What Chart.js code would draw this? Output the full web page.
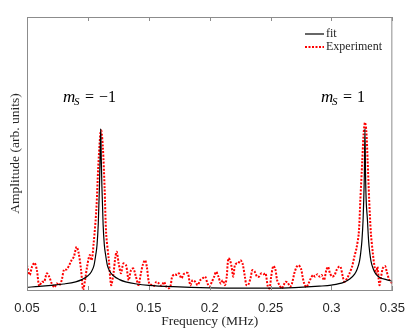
<!DOCTYPE html>
<html>
<head>
<meta charset="utf-8">
<script src="https://cdn.jsdelivr.net/npm/chart.js@4.4.1/dist/chart.umd.min.js"></script>
<style>
    html, body { margin: 0; padding: 0; background: #ffffff; }
    #wrap { width: 416px; height: 336px; }
</style>
</head>
<body>
<div id="wrap"><canvas id="chart" width="416" height="336"></canvas></div>
<script>
// ====== Data ======
const xTicks = [0.05, 0.1, 0.15, 0.2, 0.25, 0.3, 0.35];

// Fitted curve (black solid)
const fitFreq = [
    0.05, 0.06, 0.07, 0.08, 0.09, 0.095, 0.1, 0.103, 0.105, 0.1065, 0.1075,
    0.1085, 0.1095, 0.11, 0.1105, 0.111, 0.1115, 0.1125, 0.1135, 0.1145,
    0.116, 0.118, 0.121, 0.126, 0.131, 0.14, 0.15, 0.17, 0.2, 0.23, 0.25,
    0.27, 0.29, 0.3, 0.31, 0.315, 0.319, 0.321, 0.323, 0.324, 0.325, 0.326,
    0.3265, 0.327, 0.3275, 0.328, 0.3285, 0.3295, 0.3305, 0.3315, 0.3325,
    0.3345, 0.3365, 0.34, 0.345, 0.35
];
const fitAmp = [
    0.010, 0.013, 0.017, 0.022, 0.030, 0.038, 0.052, 0.068, 0.090, 0.130, 0.165,
    0.240, 0.380, 0.480, 0.590, 0.480, 0.380, 0.240, 0.165, 0.130,
    0.090, 0.068, 0.052, 0.038, 0.030, 0.022, 0.017, 0.012, 0.008, 0.007, 0.007,
    0.009, 0.014, 0.018, 0.028, 0.040, 0.058, 0.075, 0.105, 0.135, 0.180, 0.260,
    0.330, 0.420, 0.590, 0.420, 0.330, 0.260, 0.180, 0.135, 0.105,
    0.075, 0.058, 0.045, 0.038, 0.032
];

// Measured spectrum (red dotted)
const expFreq = [
    0.0500, 0.0522, 0.0541, 0.0562, 0.0581, 0.0600, 0.0622, 0.0641, 0.0663, 0.0682,
    0.0703, 0.0725, 0.0744, 0.0766, 0.0785, 0.0804, 0.0825, 0.0847, 0.0866, 0.0885,
    0.0907, 0.0925, 0.0944, 0.0961, 0.0977, 0.0993, 0.1015, 0.1031, 0.1047, 0.1069,
    0.1085, 0.1102, 0.1110, 0.1123, 0.1137, 0.1150, 0.1172, 0.1191, 0.1210, 0.1226,
    0.1237, 0.1253, 0.1272, 0.1291, 0.1313, 0.1335, 0.1354, 0.1373, 0.1394, 0.1416,
    0.1435, 0.1454, 0.1470, 0.1484, 0.1503, 0.1524, 0.1543, 0.1562, 0.1584, 0.1606,
    0.1625, 0.1644, 0.1665, 0.1679, 0.1692, 0.1714, 0.1733, 0.1747, 0.1768, 0.1787,
    0.1806, 0.1822, 0.1841, 0.1860, 0.1882, 0.1901, 0.1923, 0.1942, 0.1963, 0.1982,
    0.1999, 0.2018, 0.2037, 0.2053, 0.2072, 0.2091, 0.2107, 0.2126, 0.2140, 0.2153,
    0.2167, 0.2180, 0.2194, 0.2207, 0.2221, 0.2234, 0.2253, 0.2270, 0.2289, 0.2302,
    0.2316, 0.2335, 0.2351, 0.2370, 0.2389, 0.2405, 0.2424, 0.2443, 0.2459, 0.2478,
    0.2492, 0.2505, 0.2522, 0.2538, 0.2554, 0.2573, 0.2592, 0.2608, 0.2622, 0.2641,
    0.2660, 0.2676, 0.2695, 0.2714, 0.2730, 0.2749, 0.2763, 0.2776, 0.2793, 0.2812,
    0.2831, 0.2850, 0.2866, 0.2885, 0.2904, 0.2920, 0.2939, 0.2958, 0.2972, 0.2988,
    0.3007, 0.3026, 0.3042, 0.3061, 0.3075, 0.3093, 0.3107, 0.3129, 0.3148, 0.3169,
    0.3188, 0.3205, 0.3224, 0.3237, 0.3253, 0.3264, 0.3275, 0.3286, 0.3297, 0.3310,
    0.3324, 0.3340, 0.3354, 0.3367, 0.3378, 0.3394, 0.3408, 0.3421, 0.3440, 0.3454,
    0.3476, 0.3500
];
const expAmp = [
    0.091, 0.055, 0.085, 0.100, 0.073, 0.015, 0.030, 0.030, 0.061, 0.049,
    0.024, 0.010, 0.024, 0.018, 0.036, 0.075, 0.075, 0.091, 0.109, 0.122,
    0.158, 0.134, 0.073, 0.000, 0.036, 0.085, 0.128, 0.109, 0.170, 0.292,
    0.450, 0.572, 0.584, 0.523, 0.377, 0.207, 0.109, 0.018, 0.061, 0.122,
    0.140, 0.097, 0.061, 0.097, 0.091, 0.036, 0.073, 0.079, 0.049, 0.018,
    0.061, 0.097, 0.109, 0.085, 0.024, 0.018, 0.015, 0.030, 0.024, 0.015,
    0.030, 0.012, 0.006, 0.015, 0.049, 0.058, 0.055, 0.061, 0.043, 0.058,
    0.063, 0.061, 0.018, 0.036, 0.030, 0.018, 0.036, 0.043, 0.049, 0.024,
    0.012, 0.030, 0.049, 0.067, 0.049, 0.024, 0.036, 0.018, 0.049, 0.116,
    0.109, 0.085, 0.049, 0.091, 0.097, 0.097, 0.109, 0.097, 0.049, 0.018,
    0.018, 0.043, 0.073, 0.067, 0.049, 0.049, 0.061, 0.058, 0.061, 0.012,
    0.006, 0.049, 0.088, 0.079, 0.036, 0.018, 0.006, 0.018, 0.030, 0.027,
    0.012, 0.024, 0.061, 0.085, 0.091, 0.079, 0.049, 0.024, 0.010, 0.024,
    0.043, 0.055, 0.049, 0.058, 0.049, 0.055, 0.036, 0.073, 0.085, 0.061,
    0.049, 0.055, 0.073, 0.085, 0.085, 0.049, 0.030, 0.043, 0.061, 0.085,
    0.122, 0.152, 0.207, 0.328, 0.474, 0.572, 0.614, 0.584, 0.474, 0.328,
    0.207, 0.134, 0.085, 0.061, 0.085, 0.018, 0.049, 0.079, 0.088, 0.067,
    0.036, 0.024
];

// ====== Helpers ======
function toPoints(xs, ys) {
    return xs.map((x, i) => ({ x, y: ys[i] }));
}

const AXIS_GRAY = '#8c8c8c';
const TEXT_DARK = '#262626';
const SERIF = '"Liberation Serif", "DejaVu Serif", serif';
const SANS = '"Liberation Sans", Arial, sans-serif';

// ====== Plugin: box, inward ticks, legend, peak labels ======
const decorations = {
    id: 'decorations',
    afterDatasetsDraw(chart) {
        const { ctx, chartArea: a, scales } = chart;
        ctx.save();

        // box
        ctx.strokeStyle = AXIS_GRAY;
        ctx.lineWidth = 1;
        ctx.strokeRect(a.left + 0.5, a.top + 0.5, a.right - a.left - 1, a.bottom - a.top);

        // inward ticks on top and bottom
        for (const t of xTicks) {
            const px = Math.round(scales.x.getPixelForValue(t)) + 0.5;
            ctx.beginPath();
            ctx.moveTo(px, a.bottom);
            ctx.lineTo(px, a.bottom - 4);
            ctx.moveTo(px, a.top);
            ctx.lineTo(px, a.top + 4);
            ctx.stroke();
        }

        // legend
        const ds = chart.data.datasets;
        const rows = [34, 47];
        ds.forEach((d, i) => {
            ctx.beginPath();
            ctx.strokeStyle = d.borderColor;
            ctx.lineWidth = d.borderWidth;
            ctx.setLineDash(d.borderDash || []);
            ctx.moveTo(305, rows[i]);
            ctx.lineTo(324, rows[i]);
            ctx.stroke();
            ctx.setLineDash([]);
            ctx.fillStyle = TEXT_DARK;
            ctx.font = '12px ' + SERIF;
            ctx.textBaseline = 'middle';
            ctx.textAlign = 'left';
            ctx.fillText(d.label, 326, rows[i]);
        });

        // peak labels: m_S = value
        function peakLabel(x, y, value) {
            ctx.fillStyle = '#000000';
            ctx.textBaseline = 'alphabetic';
            ctx.textAlign = 'left';
            ctx.font = 'italic 17px ' + SERIF;
            ctx.fillText('m', x, y);
            ctx.font = 'italic 11px ' + SERIF;
            ctx.fillText('S', x + 11, y + 3);
            ctx.font = '16px ' + SERIF;
            ctx.fillText('=', x + 22, y);
            ctx.fillText(value, x + 36, y);
        }
        peakLabel(63, 102, '\u22121');
        peakLabel(321, 102, '1');

        ctx.restore();
    }
};

// ====== Chart ======
new Chart(document.getElementById('chart'), {
    type: 'line',
    data: {
        datasets: [
            {
                label: 'fit',
                data: toPoints(fitFreq, fitAmp),
                borderColor: '#000000',
                borderWidth: 1.2,
                pointRadius: 0,
                cubicInterpolationMode: 'monotone'
            },
            {
                label: 'Experiment',
                data: toPoints(expFreq, expAmp),
                borderColor: '#ff0000',
                borderWidth: 2,
                borderDash: [2, 1.5],
                pointRadius: 0,
                tension: 0.3
            }
        ]
    },
    options: {
        responsive: false,
        animation: false,
        events: [],
        layout: { padding: { top: 17, right: 21, left: 0, bottom: 0 } },
        plugins: {
            legend: { display: false },
            tooltip: { enabled: false }
        },
        scales: {
            x: {
                type: 'linear',
                min: 0.05,
                max: 0.35,
                afterFit: (s) => { s.height = 46; },
                afterBuildTicks: (s) => { s.ticks = xTicks.map(v => ({ value: v })); },
                grid: { display: false, drawTicks: false },
                border: { display: true, color: AXIS_GRAY, width: 1 },
                ticks: {
                    padding: 11,
                    color: TEXT_DARK,
                    font: { family: SANS, size: 13 },
                    callback: (v) => String(Number(v.toFixed(2)))
                },
                title: {
                    display: true,
                    text: 'Frequency (MHz)',
                    color: TEXT_DARK,
                    font: { family: SERIF, size: 13.5 },
                    padding: { top: 0, bottom: 6 }
                }
            },
            y: {
                type: 'linear',
                min: 0,
                max: 1,
                afterFit: (s) => { s.width = 27; },
                grid: { display: false, drawTicks: false },
                border: { display: true, color: AXIS_GRAY, width: 1 },
                ticks: { display: false },
                title: {
                    display: true,
                    text: 'Amplitude (arb. units)',
                    color: TEXT_DARK,
                    font: { family: SERIF, size: 13.5 },
                    padding: { top: 7, bottom: 0 }
                }
            }
        }
    },
    plugins: [decorations]
});
</script>
</body>
</html>
